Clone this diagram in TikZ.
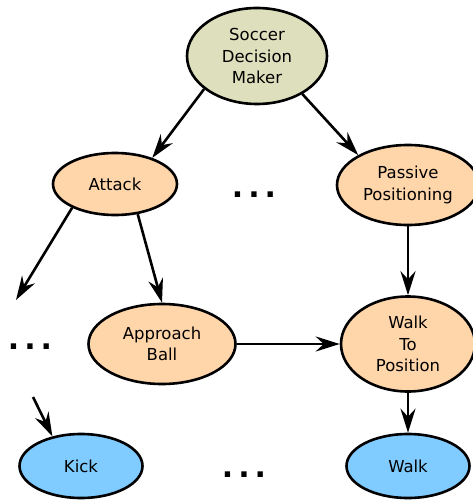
\documentclass[tikz,border=0pt]{standalone}
\usepackage{fontspec}
\setmainfont{DejaVu Sans}
\usetikzlibrary{arrows.meta,shapes.geometric}
\definecolor{RootColor}{RGB}{222,223,188}
\definecolor{TaskColor}{RGB}{255,213,170}
\definecolor{SkillColor}{RGB}{128,203,255}

\begin{document}
\begin{tikzpicture}[x=1pt, y=-1pt,
    behav/.style={ellipse, draw, line width=2.6pt, inner sep=0pt, align=center,
      font=\fontsize{16.5}{21.5}\selectfont},
    moredots/.style={inner sep=0pt, font=\fontsize{30}{30}\selectfont\bfseries},
    link/.style={line width=2.6pt, -{Stealth[length=24pt, width=15pt, inset=8pt]}}]
        \useasboundingbox (0,0) rectangle (473,500);
        % decision tree
        \node[behav, fill=RootColor, minimum width=140pt, minimum height=96pt] (sdm) at (257,56) {Soccer\\Decision\\Maker};
        \node[behav, fill=TaskColor, minimum width=124pt, minimum height=62pt] (attack) at (115,184) {Attack};
        \node[behav, fill=TaskColor, minimum width=142pt, minimum height=80pt] (passive) at (408,185) {Passive\\Positioning};
        \node[behav, fill=TaskColor, minimum width=147pt, minimum height=80pt] (approach) at (162,344) {Approach\\Ball};
        \node[behav, fill=TaskColor, minimum width=134pt, minimum height=95pt] (wtp) at (408,344) {Walk\\To\\Position};
        \node[behav, fill=SkillColor, minimum width=123pt, minimum height=64pt] (kick) at (81,466) {Kick};
        \node[behav, fill=SkillColor, minimum width=123pt, minimum height=64pt] (walk) at (408,466) {Walk};
        \node[moredots] (middots) at (254,195) {.\hspace{5pt}.\hspace{5pt}.};
        \node[moredots] (leftdots) at (30,347) {.\hspace{5pt}.\hspace{5pt}.};
        \node[moredots] (botdots) at (244,475) {.\hspace{5pt}.\hspace{5pt}.};
        \coordinate (atkend) at (16,300);
        \coordinate (kickstart) at (33,397);
        % connectors
        \draw[link] (sdm.212) -- (attack.35);
        \draw[link] (sdm.320) -- (passive.149);
        \draw[link] (attack.209) -- (atkend);
        \draw[link] (attack.307) -- (approach.north);
        \draw[link] (passive) -- (wtp);
        \draw[link] (approach) -- (wtp);
        \draw[link] (kickstart) -- (kick.134);
        \draw[link] (wtp) -- (walk);
      \end{tikzpicture}
\end{document}
